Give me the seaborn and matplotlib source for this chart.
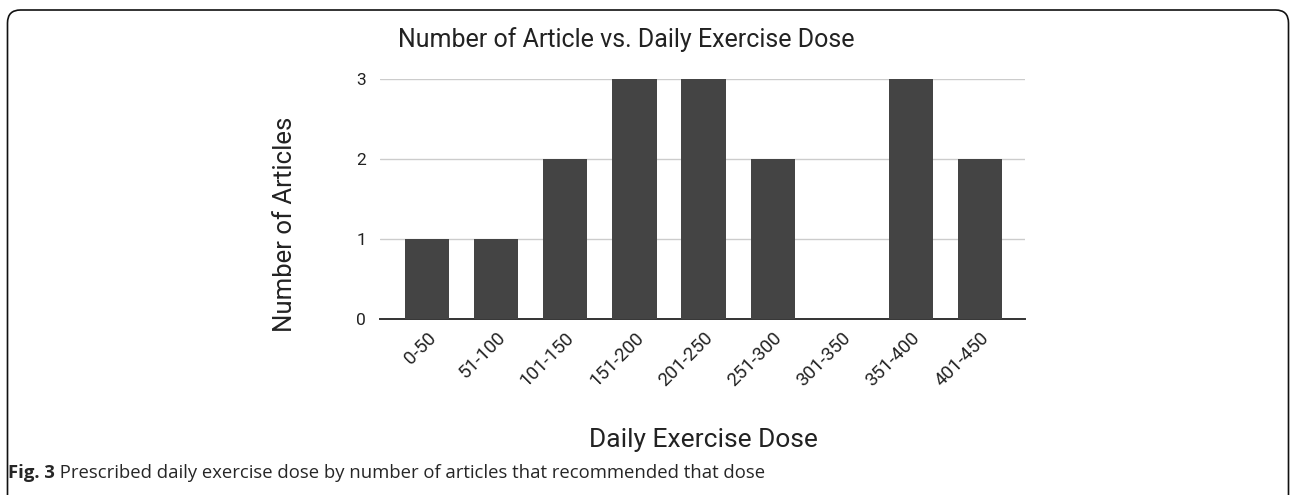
"""
Bar chart: number of articles per prescribed daily exercise dose
"""

import matplotlib.pyplot as plt
from matplotlib.patches import FancyBboxPatch
import seaborn as sns
import pandas as pd

# Data
dose_bins = ['0-50', '51-100', '101-150', '151-200', '201-250',
             '251-300', '301-350', '351-400', '401-450']
n_articles = [1, 1, 2, 3, 3, 2, 0, 3, 2]
y_ticks = [0, 1, 2, 3]

title = 'Number of Article vs. Daily Exercise Dose'
x_label = 'Daily Exercise Dose'
y_label = 'Number of Articles'
caption_bold = 'Fig. 3'
caption_text = ' Prescribed daily exercise dose by number of articles that recommended that dose'

sns.set_style('white')
plt.rcParams['font.family'] = ['Roboto', 'DejaVu Sans']

df = pd.DataFrame({'dose': dose_bins, 'count': n_articles})

fig = plt.figure(figsize=(12.9, 4.95), dpi=100)
ax = fig.add_axes([380 / 1290, 1 - 319 / 495, 645 / 1290, 240 / 495])

sns.barplot(data=df, x='dose', y='count', color='#444444', saturation=1,
            width=0.64, linewidth=0, ax=ax, zorder=3)

ax.set_xlim(-0.68, 8.65)
ax.set_ylim(0, 3)
ax.set_yticks(y_ticks)
ax.yaxis.grid(True, color='#cccccc', lw=1.0, zorder=0)
ax.set_axisbelow(True)
for side in ['left', 'right', 'top']:
    ax.spines[side].set_visible(False)
ax.spines['bottom'].set_color('#333333')
ax.spines['bottom'].set_linewidth(1.4)
ax.tick_params(axis='y', length=0, labelsize=12.5, colors='#222222', pad=10)
ax.tick_params(axis='x', length=0, labelsize=13.5, colors='#222222', pad=7)
for lab in ax.get_xticklabels():
    lab.set_rotation(45)
    lab.set_ha('right')
    lab.set_rotation_mode('anchor')

ax.set_xlabel(x_label, fontsize=19, color='#222222')
ax.xaxis.label.set_va('baseline')
ax.xaxis.set_label_coords(0.502, -0.533)
ax.set_ylabel(y_label, fontsize=18.5, color='#222222')
ax.yaxis.set_label_coords(-0.128, 0.396)

fig.text(398 / 1290, 1 - 47 / 495, title, fontsize=18, color='#222222',
         ha='left', va='baseline')

# caption, bold figure number then plain text
cap_y = 1 - 478 / 495
t1 = fig.text(8 / 1290, cap_y, caption_bold, fontsize=13.3, weight='bold',
              family=['Open Sans', 'DejaVu Sans'], va='baseline')
fig.canvas.draw()
bb = t1.get_window_extent(renderer=fig.canvas.get_renderer())
fig.text(bb.x1 / fig.bbox.width, cap_y, caption_text, fontsize=13.3,
         family=['Open Sans', 'DejaVu Sans'], va='baseline')

# rounded frame around the figure, open at the bottom
frame = FancyBboxPatch((0.075, -0.6), 12.81, 5.45,
                       boxstyle='round,pad=0,rounding_size=0.13',
                       transform=fig.dpi_scale_trans, fill=False,
                       ec='#111111', lw=1.2, clip_on=False)
fig.patches.append(frame)

fig.savefig('out.png', dpi=100)
